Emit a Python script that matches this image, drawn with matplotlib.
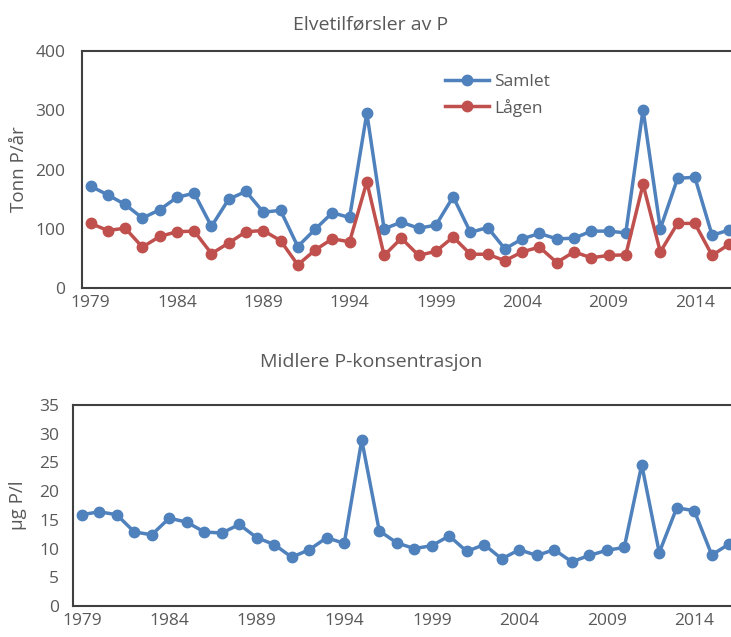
import numpy as np
import matplotlib.pyplot as plt

years = np.arange(1979, 2017)

samlet = [172, 157, 141, 118, 132, 153, 160, 104, 150, 163,
          128, 131, 70, 99, 127, 119, 295, 100, 111, 101,
          106, 154, 94, 102, 66, 83, 92, 83, 84, 96,
          96, 93, 301, 100, 185, 187, 89, 98]
lagen = [109, 97, 101, 69, 87, 95, 96, 58, 76, 95,
         97, 80, 39, 64, 83, 78, 179, 55, 84, 55,
         62, 86, 57, 57, 46, 61, 69, 43, 61, 51,
         55, 56, 175, 61, 109, 109, 55, 74]
konsentrasjon = [15.9, 16.4, 15.9, 12.9, 12.4, 15.3, 14.6, 12.9, 12.7, 14.2,
                 11.9, 10.7, 8.5, 9.8, 11.9, 10.9, 28.9, 13.1, 11.0, 10.0,
                 10.5, 12.2, 9.5, 10.7, 8.2, 9.8, 8.8, 9.8, 7.7, 8.8,
                 9.7, 10.2, 24.6, 9.3, 17.1, 16.6, 8.9, 10.8]

tick_years = [1979, 1984, 1989, 1994, 1999, 2004, 2009, 2014]

blue = '#4F81BD'
red = '#C0504D'
txt = '#595959'
frame = '#404040'

plt.rcParams['font.family'] = ['Open Sans', 'DejaVu Sans']

W, H = 731, 637
fig = plt.figure(figsize=(W / 100, H / 100), dpi=100)


def px_axes(left, top, right, bottom):
    return fig.add_axes([left / W, 1 - bottom / H, (right - left) / W, (bottom - top) / H])


def style(ax, ypad):
    for side in ['left', 'top', 'bottom']:
        ax.spines[side].set_color(frame)
        ax.spines[side].set_linewidth(1.5)
    ax.spines['right'].set_visible(False)
    ax.set_xlim(1978.5, 2016.5)
    ax.set_xticks(tick_years)
    ax.tick_params(length=0, labelsize=12.5, labelcolor=txt)
    ax.tick_params(axis='x', pad=5)
    ax.tick_params(axis='y', pad=ypad)


# top panel: phosphorus transport
ax1 = px_axes(82, 51, 738, 288)
ax1.plot(years, samlet, '-o', color=blue, lw=2.5, ms=7.5, label='Samlet')
ax1.plot(years, lagen, '-o', color=red, lw=2.5, ms=7.5, label='Lågen')
style(ax1, 12)
ax1.set_ylim(0, 400)
ax1.set_yticks(range(0, 401, 100))
ax1.set_ylabel('Tonn P/år', fontsize=13.5, color=txt, labelpad=5)
ax1.legend(loc='upper left', bbox_to_anchor=(0.53, 0.97), frameon=False,
           fontsize=12.5, labelcolor=txt, handlelength=2.5, handletextpad=0.3,
           labelspacing=0.5)
fig.text(371 / W, 1 - 25 / H, 'Elvetilførsler av P', ha='center', va='center',
         fontsize=14, color=txt)

# bottom panel: mean concentration
ax2 = px_axes(73, 405, 738, 606)
ax2.plot(years, konsentrasjon, '-o', color=blue, lw=2.5, ms=7.5)
style(ax2, 10)
ax2.set_ylim(0, 35)
ax2.set_yticks(range(0, 36, 5))
ax2.set_ylabel('µg P/l', fontsize=13.5, color=txt, labelpad=9)
fig.text(371 / W, 1 - 362 / H, 'Midlere P-konsentrasjon', ha='center', va='center',
         fontsize=14, color=txt)

fig.savefig('out.png', dpi=100)
